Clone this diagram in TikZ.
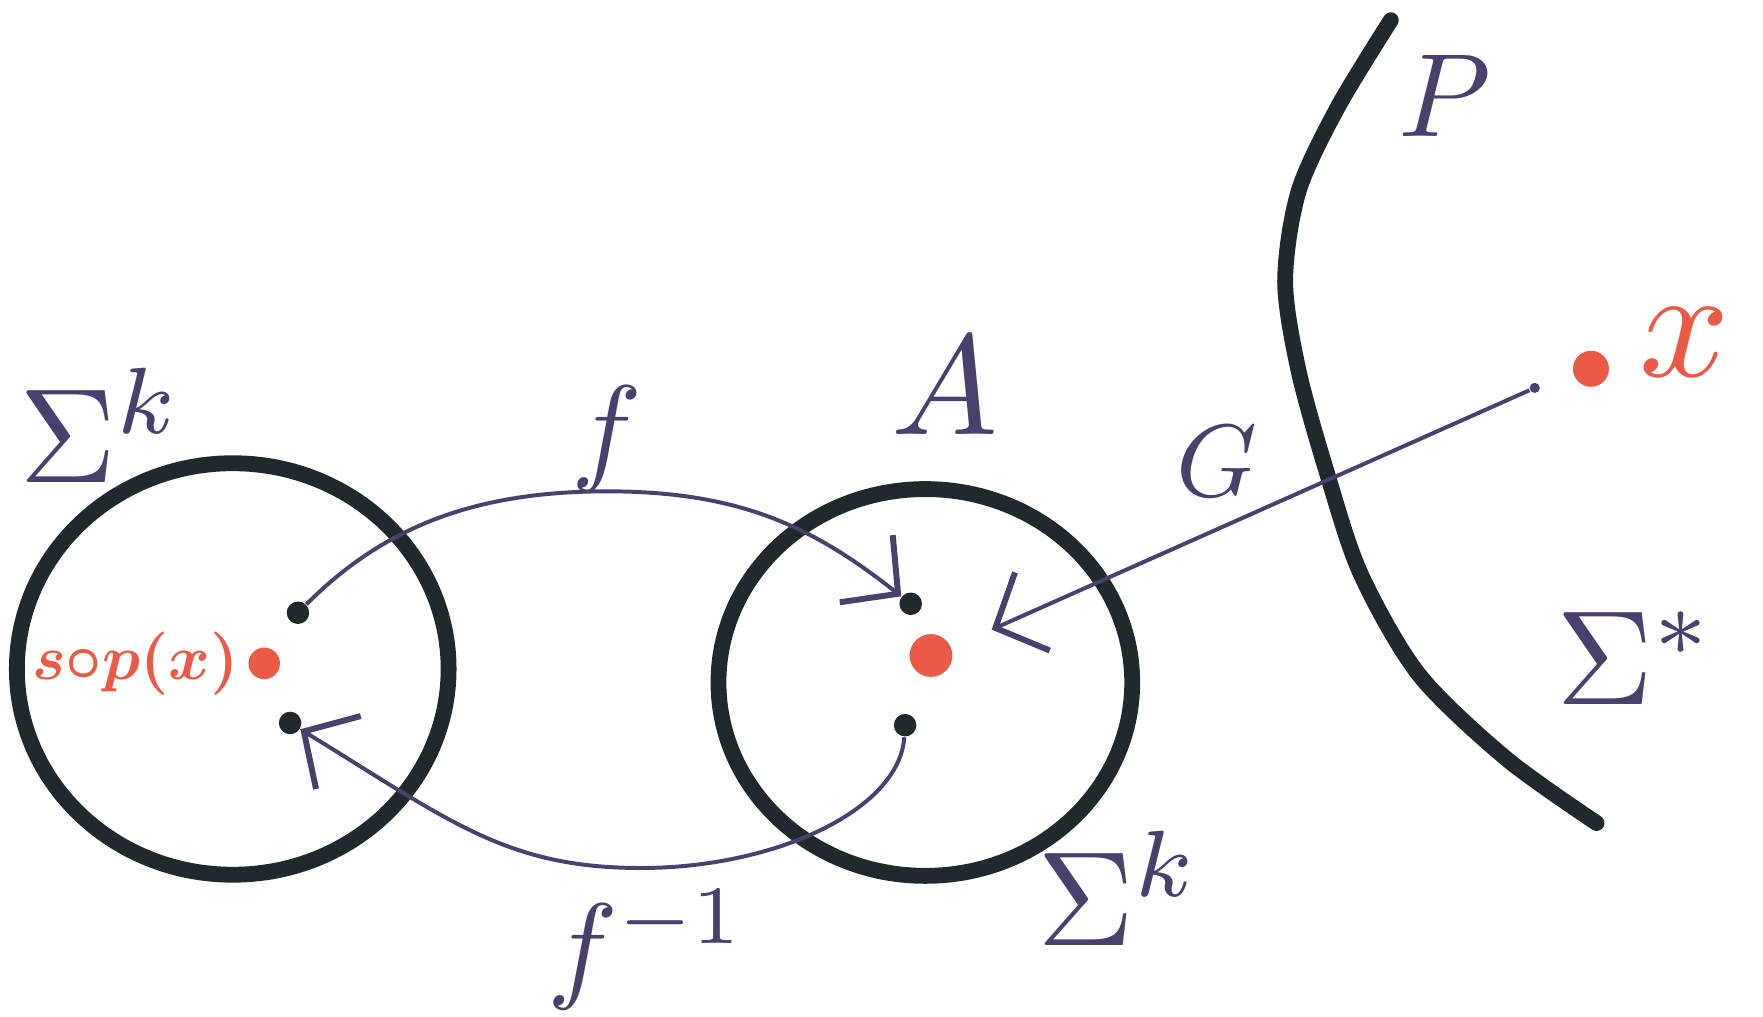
\documentclass[tikz,border=0pt]{standalone}
\usepackage{amsmath, amssymb}
\usepackage{tikz}
\usetikzlibrary{arrows.meta, positioning}
\definecolor{ink}{HTML}{4B3F6E}
\definecolor{pen}{HTML}{1F2A2E}
\definecolor{redink}{HTML}{EA5A45}

\begin{document}
\begin{tikzpicture}[
    x=0.01cm, y=-0.01cm,
    blob/.style={draw=pen, line width=4pt, line join=round},
    wire/.style={draw=ink, line width=1pt},
    ar/.style={wire, -{Straight Barb[length=3.6mm, width=7.6mm, line width=1.5pt]}},
    dot/.style={circle, fill=pen, inner sep=0pt, minimum size=2mm},
    rdot/.style={circle, fill=redink, inner sep=0pt, minimum size=3.4mm},
    lbl/.style={text=ink, inner sep=0pt, font=\normalsize}
]
\useasboundingbox (0,0) rectangle (1568,904);
% the two domains
\draw[blob] (207,595) ellipse [x radius=192, y radius=183];
\draw[blob] (823,607) ellipse [x radius=184, y radius=172];
% the curve P
\draw[blob, line cap=round] plot[smooth] coordinates {(1237,18) (1190,95) (1155,170) (1143,250) (1155,330) (1180,420) (1210,510) (1262,600) (1340,675) (1420,732)};
% points
\node[dot] (pl) at (265,545) {};
\node[dot] (ql) at (258,643) {};
\node[dot] (pr) at (810,537) {};
\node[dot] (qr) at (805,645) {};
\node[rdot, minimum size=3.8mm] (ra) at (828,583) {};
\node[rdot, minimum size=2.8mm] (rs) at (235,590) {};
\node[rdot, minimum size=3.2mm] (rx) at (1415,328) {};
\node[circle, fill=ink, inner sep=0pt, minimum size=0.9mm] (gsrc) at (1365,345) {};
\coordinate (gtip) at (882,560);
\coordinate (ftop) at (540,437);
\coordinate (fbot) at (570,772);
% labels
\node[lbl, scale=3.4] (sigl) at (90,378) {$\Sigma^k$};
\node[lbl, scale=3.4] (sigr) at (995,790) {$\Sigma^k$};
\node[lbl, scale=3.4] (sigs) at (1455,585) {$\Sigma^*$};
\node[lbl, scale=3] (lf) at (540,390) {$f$};
\node[lbl, scale=3] (lfi) at (575,845) {$f^{-1}$};
\node[lbl, scale=3.6] (la) at (840,343) {$A$};
\node[lbl, scale=2.6] (lg) at (1082,410) {$G$};
\node[lbl, scale=3] (lp) at (1285,85) {$P$};
\node[text=redink, inner sep=0pt, scale=4] (lx) at (1498,305) {$x$};
\node[text=redink, inner sep=0pt, scale=1.6, font=\boldmath, left=2pt of rs] (lsp) {$s{\circ}p(x)$};
% maps
\draw[ar] (pl) .. controls (340,470) and (420,437) .. (ftop) .. controls (660,437) and (725,470) .. (pr);
\draw[ar] (qr) .. controls (800,720) and (690,772) .. (fbot) .. controls (450,772) and (400,730) .. (ql);
\draw[ar] (gsrc) -- (gtip);
\end{tikzpicture}
\end{document}
